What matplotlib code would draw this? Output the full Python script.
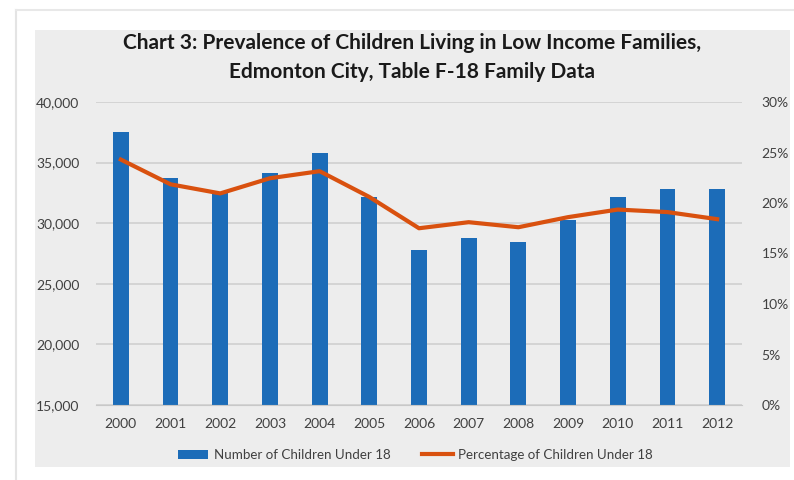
import matplotlib.pyplot as plt
import numpy as np
from matplotlib.patches import Rectangle
from matplotlib.lines import Line2D
from matplotlib.ticker import FuncFormatter

plt.rcParams['font.family'] = ['Lato', 'DejaVu Sans']

#---data---
years = ['2000', '2001', '2002', '2003', '2004', '2005', '2006',
         '2007', '2008', '2009', '2010', '2011', '2012']
num_children = [37550, 33700, 32500, 34170, 35800, 32130, 27790,
                28750, 28470, 30260, 32190, 32800, 32800]
pct_children = [24.3, 21.85, 20.95, 22.45, 23.15, 20.6, 17.5,
                18.1, 17.6, 18.6, 19.35, 19.1, 18.4]

bar_color = '#1c6cb8'
line_color = '#d9510f'
text_color = '#404040'

fig = plt.figure(figsize=(7.94, 4.8), dpi=100)
fig.patch.set_facecolor('white')

# card frame + grey chart panel
fig.add_artist(Line2D([16/794, 16/794], [0, 1 - 10/480], color='#e4e4e4', lw=1.5))
fig.add_artist(Line2D([16/794, 1], [1 - 10/480, 1 - 10/480], color='#e8e8e8', lw=1.5))
fig.add_artist(Rectangle((35/794, 1 - 467/480), (790 - 35)/794, (467 - 30)/480,
                         facecolor='#ededed', edgecolor='none', zorder=0))

ax = fig.add_axes([96/794, 1 - 405/480, (742 - 96)/794, (405 - 102)/480])
ax.set_facecolor('none')
x = np.arange(len(years))
ax.bar(x, num_children, width=0.32, color=bar_color, zorder=2,
       label='Number of Children Under 18')
ax.set_ylim(15000, 40000)
ax.set_yticks(range(15000, 40001, 5000))
ax.yaxis.set_major_formatter(FuncFormatter(lambda v, p: f'{int(v):,}'))
ax.set_xlim(-0.5, len(years) - 0.5)
ax.set_xticks(x)
ax.set_xticklabels(years)
ax.grid(axis='y', color='#d0d0d0', lw=1.2, zorder=0)
ax.set_axisbelow(True)
for s in ax.spines.values():
    s.set_visible(False)
ax.spines['bottom'].set_visible(True)
ax.spines['bottom'].set_color('#c8c8c8')
ax.tick_params(length=0, colors=text_color, labelsize=10)
ax.tick_params(axis='x', pad=9)
ax.tick_params(axis='y', pad=12)

ax2 = ax.twinx()
ax2.plot(x, pct_children, color=line_color, lw=3, zorder=3,
         label='Percentage of Children Under 18', solid_joinstyle='round')
ax2.set_ylim(0, 30)
ax2.set_yticks(range(0, 31, 5))
ax2.yaxis.set_major_formatter(FuncFormatter(lambda v, p: f'{int(v)}%'))
for s in ax2.spines.values():
    s.set_visible(False)
ax2.tick_params(length=0, colors=text_color, labelsize=10, pad=14)

fig.text(0.519, 1 - 43/480, 'Chart 3: Prevalence of Children Living in Low Income Families,',
         ha='center', va='center', fontsize=15, fontweight='bold', color='#1a1a1a')
fig.text(0.519, 1 - 72/480, 'Edmonton City, Table F-18 Family Data',
         ha='center', va='center', fontsize=15, fontweight='bold', color='#1a1a1a')

h1, l1 = ax.get_legend_handles_labels()
h2, l2 = ax2.get_legend_handles_labels()
fig.legend(h1 + h2, l1 + l2, loc='center', bbox_to_anchor=(0.523, 1 - 455/480),
           ncol=2, frameon=False, fontsize=9.6, labelcolor=text_color,
           columnspacing=2.4, handlelength=2.3, handletextpad=0.4)

plt.savefig('out.png', dpi=100)
